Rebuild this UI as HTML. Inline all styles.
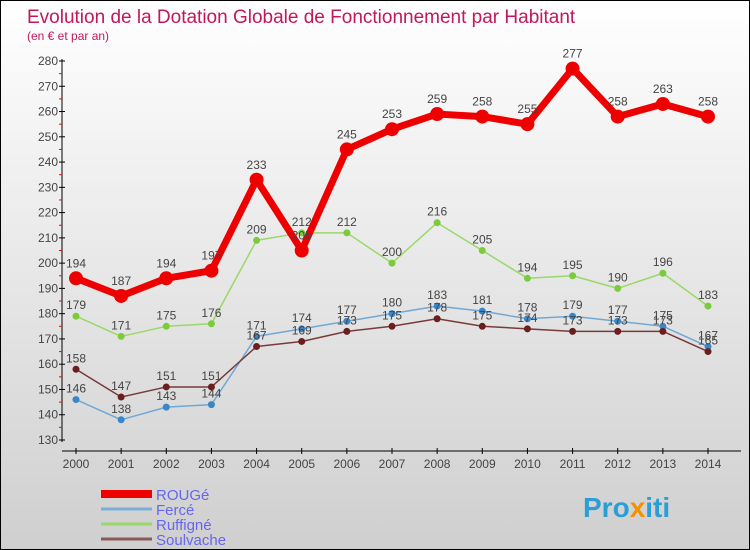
<!DOCTYPE html>
<html><head><meta charset="utf-8"><style>
body{margin:0}
#c{position:relative;width:750px;height:550px;box-sizing:border-box;border:1px solid #000;background:linear-gradient(#ffffff,#cfcfcf);font-family:"Liberation Sans",sans-serif;overflow:hidden}
</style></head><body>
<div id="c">
<svg id="s" width="750" height="550" style="position:absolute;left:0;top:0">
<text x="26" y="22" font-size="19" fill="#c2185b" font-family="Liberation Sans">Evolution de la Dotation Globale de Fonctionnement par Habitant</text>
<text x="26" y="39" font-size="12" fill="#c2185b">(en € et par an)</text>
<g id="axes"></g><g id="series"></g><g id="legend"></g>
<text x="582" y="516" font-size="28" font-weight="bold" fill="#2a9fd6">Pro<tspan fill="#f39200">x</tspan><tspan fill="#2a9fd6">iti</tspan></text>
</svg>
</div>
<script>
const years=[2000,2001,2002,2003,2004,2005,2006,2007,2008,2009,2010,2011,2012,2013,2014];
const rouge=[194,187,194,197,233,205,245,253,259,258,255,277,258,263,258];
const ferce=[146,138,143,144,171,174,177,180,183,181,178,179,177,175,167];
const ruffigne=[179,171,175,176,209,212,212,200,216,205,194,195,190,196,183];
const soulvache=[158,147,151,151,167,169,173,175,178,175,174,173,173,173,165];
const yTicks=[130,140,150,160,170,180,190,200,210,220,230,240,250,260,270,280];
const NS="http://www.w3.org/2000/svg";
function X(i){return 75+i*(707-75)/(years.length-1);}
function Y(v){return 60+(280-v)*(439-60)/150;}
function mk(t,a,p){const e=document.createElementNS(NS,t);for(const k in a)e.setAttribute(k,a[k]);p.appendChild(e);return e;}
const ax=document.getElementById('axes');
let l=mk('line',{x1:61,y1:58,x2:61,y2:441,stroke:'#000'},ax);


l=mk('line',{x1:61,y1:450,x2:740,y2:450,stroke:'#000'},ax);


yTicks.forEach(v=>{
 mk('line',{x1:58,x2:64,y1:Y(v),y2:Y(v),stroke:'#000'},ax);
 if(v<280)mk('line',{x1:58,x2:61,y1:Y(v+5),y2:Y(v+5),stroke:'#f00'},ax);
 const t=mk('text',{x:57,y:Y(v)+4,'font-size':12,'text-anchor':'end',fill:'#444'},ax);t.textContent=v;
 
 
});
years.forEach((y,i)=>{
 mk('line',{x1:X(i),x2:X(i),y1:447,y2:453,stroke:'#000'},ax);
 const t=mk('text',{x:X(i),y:467,'font-size':12,'text-anchor':'middle',fill:'#444'},ax);t.textContent=y;
 
 
});
const sg=document.getElementById('series');
const defs=[
 {n:'ferce',d:ferce,c:'#6fa8d6',dot:'#3a86c8',w:1.5,r:3.5},
 {n:'ruffigne',d:ruffigne,c:'#9ad86a',dot:'#7acc3a',w:1.5,r:3.5},
 {n:'soulvache',d:soulvache,c:'#7a3a3a',dot:'#6a1f1f',w:1.5,r:3.5},
 {n:'rouge',d:rouge,c:'#ee0000',dot:'#ee0000',w:7,r:7}];
defs.forEach(s=>{
 const p=mk('polyline',{points:s.d.map((v,i)=>X(i)+','+Y(v)).join(' '),fill:'none',stroke:s.c,'stroke-width':s.w,'stroke-linejoin':'round'},sg);
 
 
 s.d.forEach((v,i)=>{
  const c=mk('circle',{cx:X(i),cy:Y(v),r:s.r,fill:s.dot},sg);
  
  
  const t=mk('text',{x:X(i),y:Y(v)-(s.n==='rouge'?11:7),'font-size':12,'text-anchor':'middle',fill:'#444'},sg);t.textContent=v;
  
  
 });
});
const lg=document.getElementById('legend');
const leg=[['ROUGé','#ee0000',8],['Fercé','#7aaed6',3],['Ruffigné','#9ad86a',3],['Soulvache','#8a5a5a',3]];
leg.forEach((e,i)=>{
 const y=493+i*15;
 const r=mk('line',{x1:100,x2:151,y1:y,y2:y,stroke:e[1],'stroke-width':e[2]},lg);
 
 
 const t=mk('text',{x:155,y:y+6,'font-size':15,fill:'#6666ee'},lg);t.textContent=e[0];
 
 
});
</script>
</body></html>
